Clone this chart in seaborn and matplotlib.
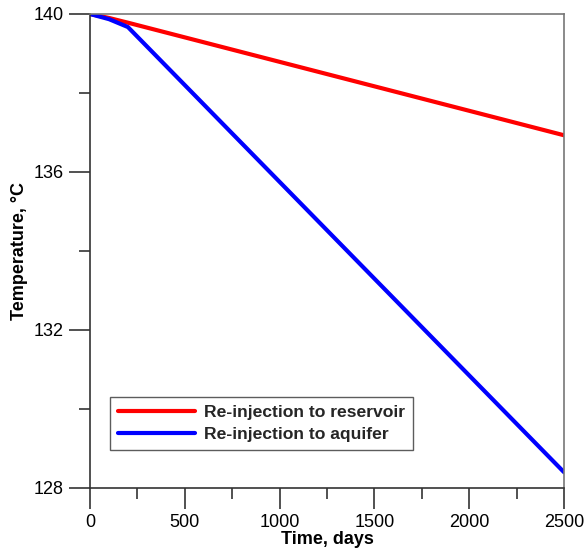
import matplotlib
matplotlib.use("Agg")
import matplotlib.pyplot as plt
import seaborn as sns
import pandas as pd
from matplotlib.ticker import MultipleLocator

days_reservoir = [0, 100, 200, 2500]
temp_reservoir = [140.0, 139.9, 139.78, 136.93]
days_aquifer = [0, 100, 200, 2500]
temp_aquifer = [140.0, 139.87, 139.67, 128.4]

labels = ["Re-injection to reservoir", "Re-injection to aquifer"]
colors = ["#ff0000", "#0000ff"]

df = pd.concat([
    pd.DataFrame({"Time": days_reservoir, "Temp": temp_reservoir, "Series": labels[0]}),
    pd.DataFrame({"Time": days_aquifer, "Temp": temp_aquifer, "Series": labels[1]}),
])

sns.set_style("ticks")
plt.rcParams["font.family"] = ["Liberation Sans", "DejaVu Sans"]

fig = plt.figure(figsize=(5.84, 5.51), dpi=100)
ax = fig.add_axes([90/584, 1-488/551, 474/584, 474/551])

sns.lineplot(data=df, x="Time", y="Temp", hue="Series", palette=colors,
             linewidth=3, ax=ax, sort=False, estimator=None)

ax.set_xlim(0, 2500)
ax.set_ylim(128, 140)
ax.xaxis.set_major_locator(MultipleLocator(500))
ax.xaxis.set_minor_locator(MultipleLocator(250))
ax.yaxis.set_major_locator(MultipleLocator(4))
ax.yaxis.set_minor_locator(MultipleLocator(2))
ax.tick_params(axis="both", which="major", direction="out", length=15, width=1.2,
               labelsize=13, color="#333333", labelcolor="black", pad=4)
ax.tick_params(axis="both", which="minor", direction="out", length=8, width=1.2,
               color="#333333")
ax.tick_params(top=False, right=False, which="both")
for s in ["left", "bottom"]:
    ax.spines[s].set_color("#333333")
    ax.spines[s].set_linewidth(1.2)
for s in ["top", "right"]:
    ax.spines[s].set_color("#777777")
    ax.spines[s].set_linewidth(1.2)

ax.set_xlabel("Time, days", fontsize=13, fontweight="bold", labelpad=0, color="black")
ax.set_ylabel("Temperature, \u00b0C", fontsize=13, fontweight="bold", labelpad=4, color="black")

leg = ax.legend(loc="lower left", bbox_to_anchor=(20/474, 38/474),
                prop={"weight": "bold", "size": 12.6}, handlelength=4.4,
                frameon=True, fancybox=False, edgecolor="#333333",
                borderaxespad=0, borderpad=0.45, labelspacing=0.4, handletextpad=0.5)
leg.get_frame().set_linewidth(1.0)

fig.savefig("out.png", dpi=100)
